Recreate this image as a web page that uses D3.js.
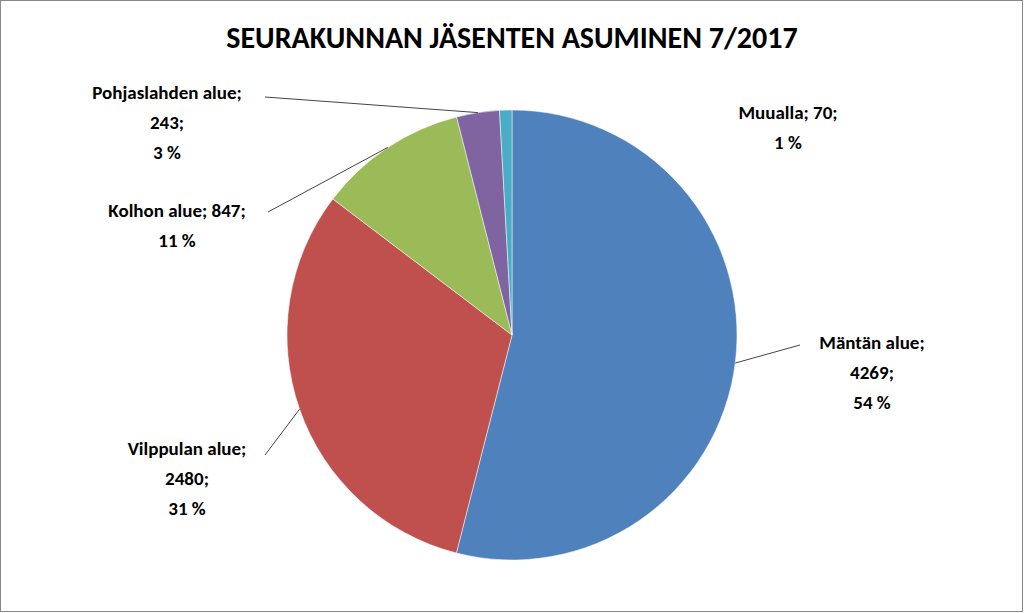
<!DOCTYPE html><html><head><meta charset="utf-8"><script src="https://cdn.jsdelivr.net/npm/d3@7"></script>
<style>body{margin:0;background:#fff}text{font-family:Carlito,Calibri,"Open Sans",sans-serif;font-weight:bold;fill:#000}</style></head><body>
<svg id="c" width="1024" height="613"></svg>
<script>
const categories=["Mäntän alue","Vilppulan alue","Kolhon alue","Pohjaslahden alue","Muualla"];
const values=[4269,2480,847,243,70];
const percents=["54 %","31 %","11 %","3 %","1 %"];
const colors=["#4F81BD","#C0504D","#9BBB59","#8064A2","#4BACC6"];
const svg=d3.select("#c");
svg.append("rect").attr("x",0.5).attr("y",0.5).attr("width",1022).attr("height",611).attr("fill","#fff").attr("stroke","#888");
svg.append("text").attr("x",512).attr("y",48).attr("text-anchor","middle").style("font-size","30px").text("SEURAKUNNAN JÄSENTEN ASUMINEN 7/2017");
const cx=512,cy=335,r=225;
const pie=d3.pie().sort(null)(values);
const arc=d3.arc().innerRadius(0).outerRadius(r);
const g=svg.append("g").attr("transform",`translate(${cx},${cy})`);
g.selectAll("path").data(pie).join("path").attr("d",arc).attr("fill",(d,i)=>colors[i]).attr("stroke","#fff").attr("stroke-width",0.5);
// label layout: [lines, x, y0, leader end (label side) or null]
const layout=[
 {x:872,y:349,lines:[categories[0]+";",values[0]+";",percents[0]],lx:800,ly:345},
 {x:187,y:455,lines:[categories[1]+";",values[1]+";",percents[1]],lx:265,ly:455},
 {x:177,y:217,lines:[categories[2]+"; "+values[2]+";",percents[2]],lx:268,ly:212},
 {x:167,y:99,lines:[categories[3]+";",values[3]+";",percents[3]],lx:265,ly:97},
 {x:788,y:119,lines:[categories[4]+"; "+values[4]+";",percents[4]],lx:null}
];
pie.forEach((d,i)=>{
  const L=layout[i];
  const t=svg.append("text").attr("text-anchor","middle").style("font-size","19px");
  L.lines.forEach((s,k)=>t.append("tspan").attr("x",L.x).attr("y",L.y+k*30).text(s));
  if(L.lx!==null){
    const a=(d.startAngle+d.endAngle)/2;
    const px=cx+Math.sin(a)*r,py=cy-Math.cos(a)*r;
    svg.append("path").attr("d",`M${px},${py}L${L.lx},${L.ly}`).attr("stroke","#444").attr("fill","none").attr("stroke-width",1);
  }
});
</script></body></html>
